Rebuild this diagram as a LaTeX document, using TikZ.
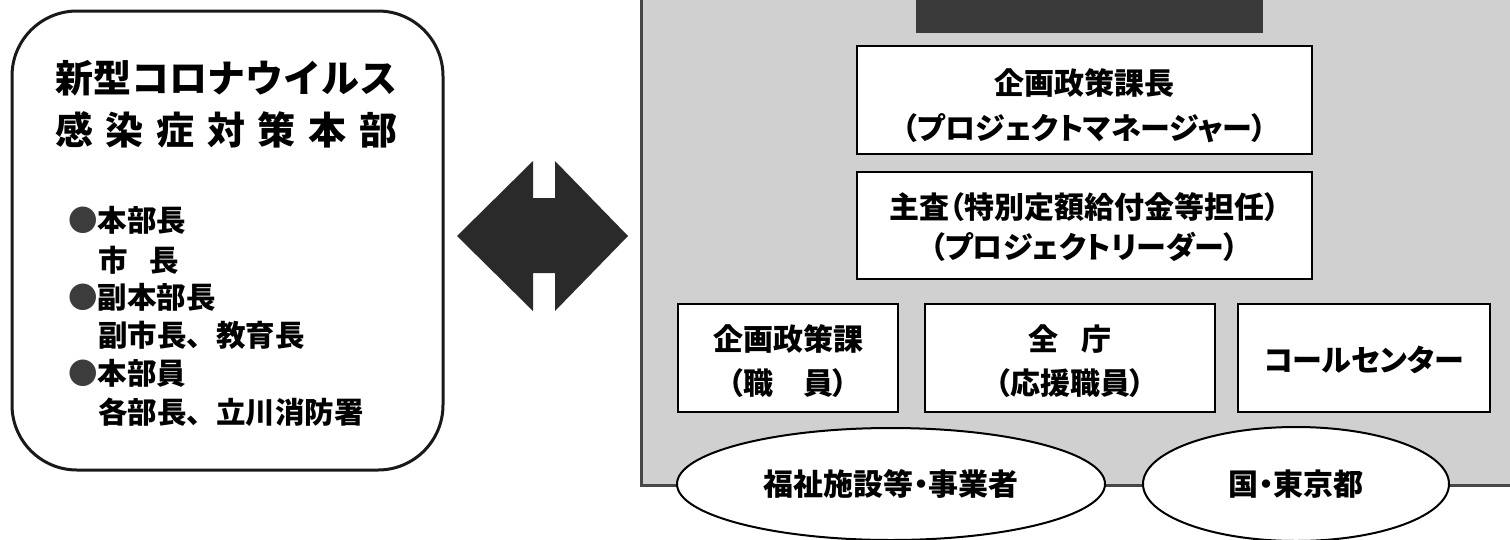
\documentclass[tikz,border=0pt]{standalone}
\usepackage{fontspec}
\usetikzlibrary{shapes.geometric}
\newfontfamily\jp{Noto Sans CJK JP}
\newfontfamily\jpp{Noto Sans CJK JP}[RawFeature=+palt]
\definecolor{panelgray}{HTML}{D0D0D0}
\definecolor{paneledge}{HTML}{474747}
\definecolor{darkfill}{HTML}{3A3A3A}
\definecolor{arrowfill}{HTML}{2A2A2A}
\definecolor{bulletgray}{HTML}{3C3C3C}
\newcommand\tsp{\hspace{12.7pt}}
\begin{document}
\begin{tikzpicture}[x=1pt,y=-1pt,
  orgbox/.style={draw=black, line width=2.5pt, fill=white, rectangle, inner sep=0pt},
  orgtext/.style={inner sep=0pt, align=center, font=\jpp\bfseries\fontsize{30}{#1}\selectfont},
  orgtext/.default=44,
  grpnode/.style={draw=black, line width=2pt, fill=white, ellipse, inner sep=0pt, font=\jpp\bfseries\fontsize{30}{34}\selectfont},
  hqbox/.style={draw=black!90, line width=3pt, rounded corners=65pt, fill=white},
  titletext/.style={inner sep=0pt, anchor=west, font=\jp\bfseries\fontsize{38}{44}\selectfont},
  listtext/.style={inner sep=0pt, anchor=west, font=\jp\bfseries\fontsize{29.5}{34}\selectfont},
]
\useasboundingbox (0,0) rectangle (1510,539);
\clip (0,0) rectangle (1510,539);
\fill[white] (0,0) rectangle (1510,539);

% left headquarters box
\draw[hqbox] (12,11) rectangle (443,470);
\node[titletext] (t1) at (55,78) {新型コロナウイルス};
\node[titletext] (t2) at (55,130) {感\tsp 染\tsp 症\tsp 対\tsp 策\tsp 本\tsp 部};
\node[listtext] (l1) at (68,220) {\textcolor{bulletgray}{●}本部長};
\node[listtext] (l2) at (98,260) {市\hspace{22pt}長};
\node[listtext] (l3) at (68,297) {\textcolor{bulletgray}{●}副本部長};
\node[listtext] (l4) at (98,335) {副市長、教育長};
\node[listtext] (l5) at (68,373) {\textcolor{bulletgray}{●}本部員};
\node[listtext] (l6) at (98,412) {各部長、立川消防署};

% double block arrow
\fill[arrowfill] (457,236) -- (533,161) -- (533,198) -- (555,198) -- (555,161)
  -- (628,236) -- (555,311) -- (555,273) -- (533,273) -- (533,311) -- cycle;

% grey panel
\fill[panelgray] (641,-20) rectangle (1530,485);
\draw[paneledge, line width=3pt] (641,-20) -- (641,485) -- (1530,485);

% dark header box (cut off at top)
\fill[darkfill] (916,-20) rectangle (1263,33);

% organisation boxes
\node[orgbox, minimum width=455pt, minimum height=108pt] (b1) at (1084.5,100) {};
\node[orgtext=45] (b1t) at (1084.5,105.5) {企画政策課長\\（プロジェクトマネージャー）};
\node[orgbox, minimum width=455pt, minimum height=107pt] (b2) at (1084.5,225.5) {};
\node[orgtext=40] (b2t) at (1084.5,227) {主査（特別定額給付金等担任）\\（プロジェクトリーダー）};
\node[orgbox, minimum width=220pt, minimum height=108pt] (ba) at (788,358) {};
\node[orgtext=44] (bat) at (788,361) {企画政策課\\（職\hspace{30pt}員）};
\node[orgbox, minimum width=290pt, minimum height=108pt] (bb) at (1070,358) {};
\node[orgtext=44] (bbt) at (1070,361) {全\hspace{24pt}庁\\（応援職員）};
\node[orgbox, minimum width=252pt, minimum height=108pt] (bc) at (1364,358) {};
\node[orgtext] (bct) at (1364,360) {コールセンター};

% partner ellipses
\node[grpnode, minimum width=428pt, minimum height=112pt] (e1) at (891,484) {福祉施設等・事業者};
\node[grpnode, minimum width=306pt, minimum height=114pt] (e2) at (1296,484) {国・東京都};
\end{tikzpicture}
\end{document}
